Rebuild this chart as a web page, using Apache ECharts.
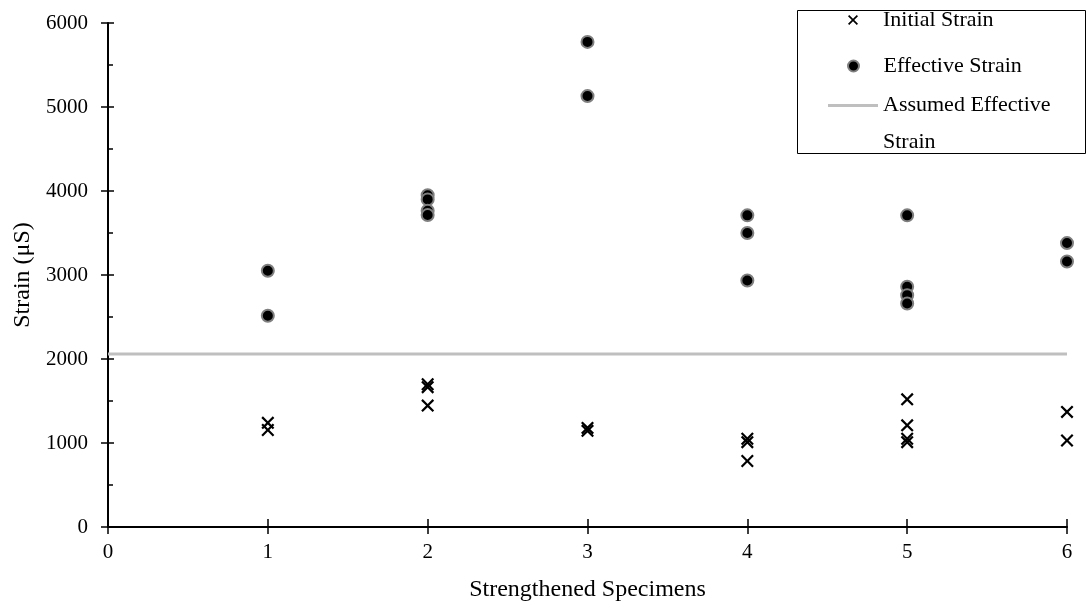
<!DOCTYPE html>
<html>
<head>
<meta charset="utf-8">
<script src="https://cdn.jsdelivr.net/npm/echarts@6/dist/echarts.min.js"></script>
<style>
    html, body { margin: 0; padding: 0; background: #fff; }
    #chart { width: 1086px; height: 613px; }
</style>
</head>
<body>
<div id="chart"></div>
<script>
// 试件编号
var specimens = [1, 2, 3, 4, 5, 6];
// 每个试件的初始应变 (μS)
var initialStrain = [
    [1240, 1155],
    [1700, 1665, 1445],
    [1180, 1145],
    [1050, 1010, 785],
    [1520, 1210, 1050, 1010],
    [1370, 1030]
];
// 每个试件的有效应变 (μS)
var effectiveStrain = [
    [3050, 2515],
    [3950, 3900, 3765, 3715],
    [5775, 5130],
    [3710, 3500, 2935],
    [3710, 2860, 2760, 2660],
    [3380, 3160]
];
// 假定有效应变
var assumedStrain = 2060;
var xRange = [0, 6];
var yRange = [0, 6000];
var yStep = 1000;

var serif = 'Liberation Serif';
var crossPath = 'path://M0,1.2L1.2,0L5,3.8L8.8,0L10,1.2L6.2,5L10,8.8L8.8,10L5,6.2L1.2,10L0,8.8L3.8,5Z';
var linePath = 'path://M0,0L50,0L50,3L0,3Z';

function toPoints(groups) {
    var pts = [];
    groups.forEach(function (vals, i) {
        vals.forEach(function (v) {
            pts.push([specimens[i], v]);
        });
    });
    return pts;
}

var myChart = echarts.init(document.getElementById('chart'));

var axisBase = {
    type: 'value',
    splitLine: { show: false }
};

var legendText = { fontFamily: serif, fontSize: 22, lineHeight: 24, color: '#000' };

var option = {
    backgroundColor: '#fff',
    animation: false,
    grid: {
        left: 108,
        right: 19,
        top: 23,
        bottom: 86
    },
    xAxis: [
        Object.assign({}, axisBase, {
            position: 'bottom',
            min: xRange[0],
            max: xRange[1],
            interval: 1,
            name: 'Strengthened Specimens',
            nameLocation: 'middle',
            nameGap: 51,
            nameTextStyle: { fontFamily: serif, fontSize: 24, color: '#000' },
            axisLine: { onZero: false, lineStyle: { color: '#000', width: 2 } },
            axisTick: { length: 7, lineStyle: { color: '#000', width: 1.5 } },
            axisLabel: { margin: 15, fontFamily: serif, fontSize: 21, color: '#000' }
        }),
        // 刻度线向内的部分
        Object.assign({}, axisBase, {
            position: 'bottom',
            min: xRange[0],
            max: xRange[1],
            interval: 1,
            axisLine: { show: false, onZero: false },
            axisTick: { inside: true, length: 8, lineStyle: { color: '#000', width: 1.5 } },
            axisLabel: { show: false }
        })
    ],
    yAxis: [
        Object.assign({}, axisBase, {
            position: 'left',
            min: yRange[0],
            max: yRange[1],
            interval: yStep,
            name: 'Strain (μS)',
            nameLocation: 'middle',
            nameGap: 67,
            nameTextStyle: { fontFamily: serif, fontSize: 24, color: '#000' },
            axisLine: { show: true, onZero: false, lineStyle: { color: '#000', width: 2 } },
            axisTick: { show: true, length: 7, lineStyle: { color: '#000', width: 1.5 } },
            axisLabel: {
                margin: 20, fontFamily: serif, fontSize: 21, color: '#000',
                formatter: function (v) { return String(v); }
            }
        }),
        Object.assign({}, axisBase, {
            position: 'left',
            min: yRange[0],
            max: yRange[1],
            interval: yStep,
            axisLine: { show: false, onZero: false },
            axisTick: { show: true, inside: true, length: 6, lineStyle: { color: '#000', width: 1.5 } },
            minorTick: { show: true, splitNumber: 2, length: 5, lineStyle: { color: '#000', width: 1.5 } },
            axisLabel: { show: false }
        })
    ],
    legend: [
        {
            left: 848,
            top: 8,
            padding: 0,
            selectedMode: false,
            itemWidth: 50,
            itemHeight: 10,
            data: ['Initial Strain'],
            textStyle: legendText
        },
        {
            left: 847,
            top: 54,
            padding: 0,
            selectedMode: false,
            itemWidth: 50,
            itemHeight: 11,
            data: ['Effective Strain'],
            textStyle: legendText
        },
        {
            left: 828,
            top: 94,
            padding: 0,
            selectedMode: false,
            itemWidth: 50,
            itemHeight: 10,
            data: [{ name: 'Assumed Effective Strain', icon: linePath }],
            formatter: function () {
                return '{a|Assumed Effective}\n{b|Strain}';
            },
            textStyle: {
                fontFamily: serif,
                fontSize: 22,
                color: '#000',
                rich: {
                    a: { fontFamily: serif, fontSize: 22, lineHeight: 73, color: '#000' },
                    b: { fontFamily: serif, fontSize: 22, lineHeight: 1, color: '#000' }
                }
            }
        }
    ],
    graphic: [
        {
            type: 'rect',
            left: 795,
            top: 8,
            shape: { width: 288, height: 143 },
            style: { fill: 'none', stroke: '#000', lineWidth: 1 },
            z: 10
        }
    ],
    series: [
        {
            name: 'Assumed Effective Strain',
            type: 'line',
            symbol: 'none',
            lineStyle: { color: '#bfbfbf', width: 3 },
            itemStyle: { color: '#bfbfbf' },
            data: [[xRange[0], assumedStrain], [xRange[1], assumedStrain]],
            z: 1
        },
        {
            name: 'Initial Strain',
            type: 'scatter',
            symbol: crossPath,
            symbolSize: 13,
            symbolKeepAspect: true,
            itemStyle: { color: '#000', opacity: 1 },
            data: toPoints(initialStrain),
            z: 3
        },
        {
            name: 'Effective Strain',
            type: 'scatter',
            symbol: 'circle',
            symbolSize: 12,
            itemStyle: { color: '#000', borderColor: '#7f7f7f', borderWidth: 2, opacity: 1 },
            data: toPoints(effectiveStrain),
            z: 3
        }
    ]
};

myChart.setOption(option);
</script>
</body>
</html>
